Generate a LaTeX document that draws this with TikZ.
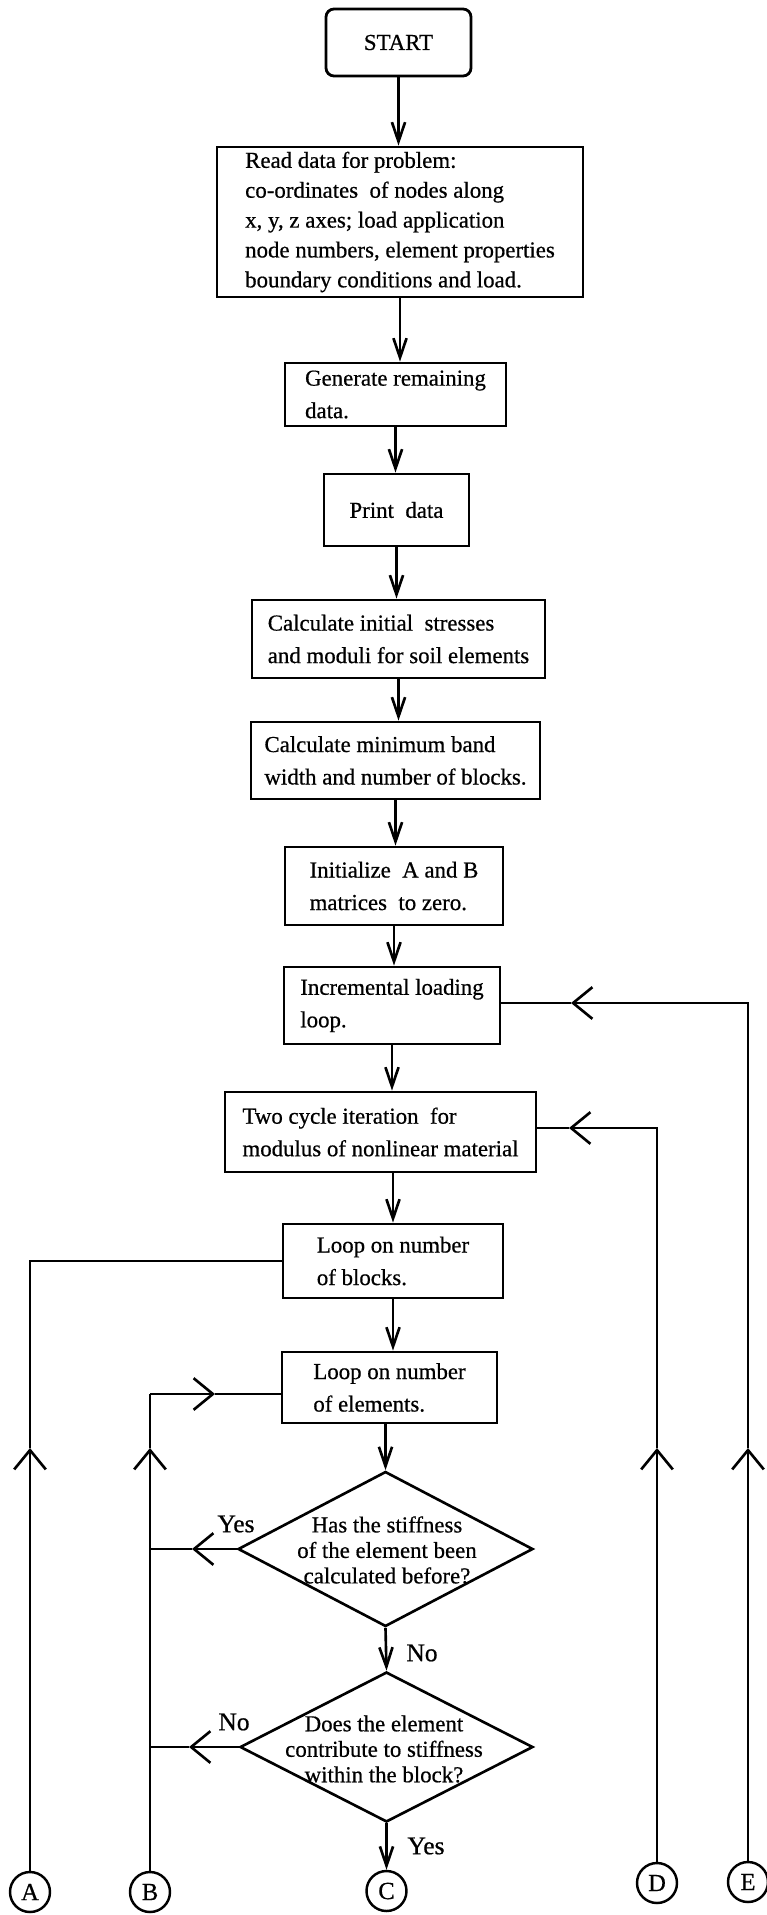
\documentclass[tikz,border=0pt]{standalone}
\usepackage{fontspec}
\setmainfont{Liberation Serif}[FakeBold=0.6]
\usetikzlibrary{arrows.meta,shapes.geometric}

\begin{document}
\begin{tikzpicture}[x=0.2mm,y=-0.2mm,
  font=\fontsize{13}{18.5}\selectfont,
  box/.style={draw,line width=1.6pt,align=left,inner sep=0pt},
  decision/.style={draw,diamond,line width=1.5pt,inner sep=0pt},
  qtext/.style={align=center,inner sep=0pt,font=\fontsize{13}{14.5}\selectfont},
  tag/.style={inner sep=0pt,font=\fontsize{14.5}{16}\selectfont},
  conn/.style={draw,circle,line width=1.4pt,minimum size=8mm,inner sep=0pt,font=\fontsize{14}{16}\selectfont},
  wire/.style={line width=1.5pt},
  flow/.style={wire,-{Straight Barb[length=11pt,width=7.5pt]}},
  back/.style={wire,-{Straight Barb[length=11pt,width=18pt]}}]
\useasboundingbox (0,0) rectangle (766,1915);

% Main column of steps
\node[box,rounded corners=1.6mm,align=center,minimum width=29mm,minimum height=13.4mm] (start) at (398.5,42.5) {START};
\node[box,minimum width=73.2mm,minimum height=30mm,font=\fontsize{13}{17}\selectfont] (read) at (400,222)
  {Read data for problem:\\co-ordinates\ \ of nodes along\\x, y, z axes; load application\\node numbers, element properties\\boundary conditions and load.};
\node[box,minimum width=44.2mm,minimum height=12.6mm] (gen) at (395.5,394.5) {Generate remaining\\data.};
\node[box,minimum width=29mm,minimum height=14.4mm] (print) at (396.5,510) {Print\ \ data};
\node[box,minimum width=58.6mm,minimum height=15.6mm] (stress) at (398.5,639) {Calculate initial\ \ stresses\\and moduli for soil elements};
\node[box,minimum width=57.8mm,minimum height=15.4mm] (band) at (395.5,760.5) {Calculate minimum band\\width and number of blocks.};
\node[box,minimum width=43.6mm,minimum height=15.6mm] (zero) at (394,886) {Initialize\ \ A and B\\matrices\ \ to zero.};
\node[box,minimum width=43.2mm,minimum height=15.4mm] (incr) at (392,1005.5) {Incremental loading\\loop.};
\node[box,minimum width=62.2mm,minimum height=16mm] (cycle) at (380.5,1132) {Two cycle iteration\ \ for\\modulus of nonlinear material};
\node[box,minimum width=44mm,minimum height=14.8mm] (blocks) at (393,1261) {Loop on number\\of blocks.};
\node[box,minimum width=43mm,minimum height=14.2mm] (elems) at (389.5,1387.5) {Loop on number\\of elements.};

% Decisions
\node[decision,minimum width=59mm,minimum height=31mm] (stiff) at (385.5,1549) {};
\node[qtext] (stiffq) at (387,1550) {Has the stiffness\\of the element been\\calculated before?};
\node[decision,minimum width=58.6mm,minimum height=30mm] (contrib) at (386.5,1747) {};
\node[qtext] (contribq) at (384,1749) {Does the element\\contribute to stiffness\\within the block?};

% Branch labels
\node[tag] (yes1) at (236,1524) {Yes};
\node[tag] (no1) at (422,1653) {No};
\node[tag] (no2) at (234,1722) {No};
\node[tag] (yes2) at (426,1846) {Yes};

% Connectors
\node[conn] (A) at (30,1892) {A};
\node[conn] (B) at (150,1892) {B};
\node[conn] (C) at (386.5,1891) {C};
\node[conn] (D) at (657,1883) {D};
\node[conn] (E) at (748,1882) {E};

% Down the column
\draw[flow] (start.south) -- (start.south |- read.north);
\draw[flow] (read.south) -- (read.south |- gen.north);
\draw[flow] (gen.south) -- (gen.south |- print.north);
\draw[flow] (print.south) -- (print.south |- stress.north);
\draw[flow] (stress.south) -- (stress.south |- band.north);
\draw[flow] (band.south) -- (band.south |- zero.north);
\draw[flow] (zero.south) -- (zero.south |- incr.north);
\draw[flow] (incr.south) -- (incr.south |- cycle.north);
\draw[flow] (blocks.north |- cycle.south) -- (blocks.north);
\draw[flow] (blocks.south) -- (blocks.south |- elems.north);
\draw[flow] (stiff.north |- elems.south) -- (stiff.north);
\draw[flow] (stiff.south) -- (contrib.north);
\draw[flow] (contrib.south) -- (C);

% Return lines
\coordinate (aUp) at (30,1448);
\coordinate (bUp) at (150,1448);
\coordinate (bTop) at (150,1394);
\coordinate (bIn) at (215,1394);
\coordinate (dUp) at (657,1448);
\coordinate (dIn) at (569,1128);
\coordinate (eUp) at (748,1448);
\coordinate (eIn) at (571,1003);

\draw[back] (A) -- (aUp);
\draw[wire] (aUp) |- (blocks.west);

\draw[back] (B) -- (bUp);
\draw[wire] (bUp) -- (bTop);
\draw[back] (bTop) -- (bIn);
\draw[wire] (bIn) -- (elems.west |- bIn);

\draw[back] (stiff.west) -- (stiff.west -| 192,0);
\draw[wire] (stiff.west -| 192,0) -- (stiff.west -| B);
\draw[back] (contrib.west) -- (contrib.west -| 189,0);
\draw[wire] (contrib.west -| 189,0) -- (contrib.west -| B);

\draw[back] (D) -- (dUp);
\draw[back] (dUp) |- (dIn);
\draw[wire] (dIn) -- (cycle.east |- dIn);

\draw[back] (E) -- (eUp);
\draw[back] (eUp) |- (eIn);
\draw[wire] (eIn) -- (incr.east |- eIn);
\end{tikzpicture}
\end{document}
